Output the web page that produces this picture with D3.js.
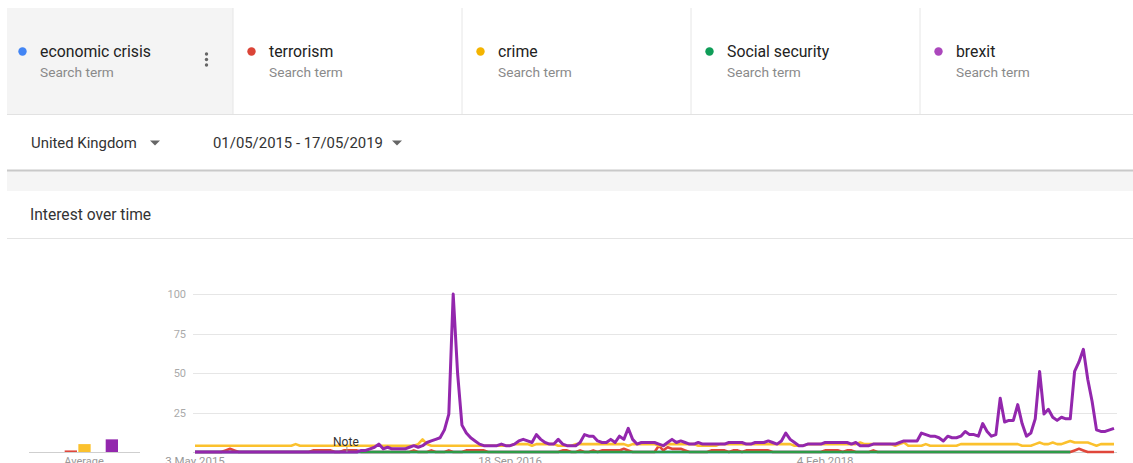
<!DOCTYPE html>
<html>
<head>
<meta charset="utf-8">
<script src="https://cdn.jsdelivr.net/npm/d3@7/dist/d3.min.js"></script>
<style>
  body { margin: 0; background: #fff; }
  svg { display: block; font-family: Roboto, 'Noto Sans', sans-serif; }
</style>
</head>
<body>
<svg id="chart" width="1133" height="463"></svg>
<script>
// search terms, in legend order
const terms = ['economic crisis', 'terrorism', 'crime', 'Social security', 'brexit'];
const dotColors = ['#4285f4', '#db4437', '#f4b400', '#0f9d58', '#ab47bc'];
const lineColors = ['#4285f4', '#e0473b', '#fbc12d', '#2e9c48', '#9327ad'];

const region = 'United Kingdom';
const dateRange = '01/05/2015 - 17/05/2019';
const firstWeek = '2015-05-03';
const lastWeek = '2019-05-12';
const xTicks = ['2015-05-03', '2016-09-18', '2018-02-04'];
const yTicks = [25, 50, 75, 100];
const noteDate = '2016-01-01';

// weekly interest, 0-100
const economicCrisis = [
  0,0,0,0,0,0,0,0,0,0, 0,0,0,0,0,0,0,0,0,0, 0,0,0,0,0,0,0,0,0,0,
  0,0,0,0,0,0,0,0,0,0, 0,0,0,0,0,0,0,0,0,0, 0,0,0,0,0,0,0,0,0,0,
  0,0,0,0,0,0,0,0,0,0, 0,0,0,0,0,0,0,0,0,0, 0,0,0,0,0,0,0,0,0,0,
  0,0,0,0,0,0,0,0,0,0, 0,0,0,0,0,0,0,0,0,0, 0,0,0,0,0,0,0,0,0,0,
  0,0,0,0,0,0,0,0,0,0, 0,0,0,0,0,0,0,0,0,0, 0,0,0,0,0,0,0,0,0,0,
  0,0,0,0,0,0,0,0,0,0, 0,0,0,0,0,0,0,0,0,0, 0,0,0,0,0,0,0,0,0,0,
  0,0,0,0,0,0,0,0,0,0, 0,0,0,0,0,0,0,0,0,0, 0
];
const terrorism = [
  0,0,0,0,0,0,0,1,2,1, 0,0,0,0,0,0,0,0,0,0, 0,0,0,0,0,0,0,1,1,1,
  1,1,0,0,1,1,1,1,0,0, 0,0,0,0,0,0,0,0,0,0, 1,0,0,0,1,0,0,0,1,0,
  0,0,1,1,1,1,1,0,0,0, 0,0,0,0,0,0,0,0,0,0, 0,0,0,0,1,1,0,0,1,0,
  0,1,0,1,1,1,1,1,2,1, 0,0,0,0,0,0,4,1,3,2, 2,2,1,0,0,0,0,0,1,1,
  1,1,0,1,1,0,1,1,1,1, 1,1,0,0,0,0,0,0,0,0, 0,0,0,0,1,1,1,1,0,1,
  1,0,0,0,0,1,0,0,0,0, 0,0,0,0,0,0,0,0,0,0, 0,0,0,0,0,0,0,0,0,0,
  0,0,0,0,0,0,0,0,0,0, 0,0,0,0,0,0,0,0,0,0, 0,1,2,1,0,0,0,0,0,0, 0
];
const crime = [
  4,4,4,4,4,4,4,4,4,4, 4,4,4,4,4,4,4,4,4,4, 4,4,4,5,4,4,4,4,4,4,
  4,4,4,4,4,4,4,4,4,4, 4,4,4,4,4,4,4,4,4,4, 4,5,8,5,4,4,4,4,4,4,
  4,4,4,4,4,4,4,4,4,4, 4,4,4,5,5,5,5,4,5,5, 5,5,5,4,4,4,4,5,5,5,
  5,5,5,5,5,5,5,5,5,4, 5,5,5,5,5,5,4,4,5,5, 5,5,5,5,5,4,4,4,4,4,
  5,5,5,5,5,5,5,5,5,5, 5,5,5,5,5,5,5,4,4,4, 5,5,5,5,5,5,5,5,5,5,
  5,5,6,5,5,5,5,5,5,5, 4,5,6,4,4,4,4,5,4,4, 4,4,4,4,4,5,5,5,5,5,
  5,5,5,5,5,5,5,5,5,4, 4,4,5,6,5,5,6,5,5,6, 7,6,6,6,6,5,4,5,5,5, 5
];
const socialSecurity = [
  0,0,0,0,0,0,0,0,0,0, 0,0,0,0,0,0,0,0,0,0, 0,0,0,0,0,0,0,0,0,0,
  0,0,0,0,0,0,0,0,0,0, 0,0,0,0,0,0,0,0,0,0, 0,0,0,0,0,0,0,0,0,0,
  0,0,0,0,0,0,0,0,0,0, 0,0,0,0,0,0,0,0,0,0, 0,0,0,0,0,0,0,0,0,0,
  0,0,0,0,0,0,0,0,0,0, 0,0,0,0,0,0,0,0,0,0, 0,0,0,0,0,0,0,0,0,0,
  0,0,0,0,0,0,0,0,0,0, 0,0,0,0,0,0,0,0,0,0, 0,0,0,0,0,0,0,0,0,0,
  0,0,0,0,0,0,0,0,0,0, 0,0,0,0,0,0,0,0,0,0, 0,0,0,0,0,0,0,0,0,0,
  0,0,0,0,0,0,0,0,0,0, 0,0,0,0,0,0,0,0,0,0, 0
];
const brexit = [
  0,0,0,0,0,0,0,0,0,0, 0,0,0,0,0,0,0,0,0,0, 0,0,0,0,0,0,0,0,0,0,
  0,0,0,0,0,0,0,0,1,1, 2,3,5,2,3,2,2,2,2,3, 4,3,4,6,7,8,9,14,24,100,
  50,17,12,9,7,5,4,4,4,4, 5,4,4,5,7,8,7,6,11,8, 6,5,5,8,5,4,4,4,6,11,
  10,10,7,6,6,8,6,10,8,15, 8,5,6,6,6,6,5,4,6,8, 6,7,6,5,5,6,5,5,5,5,
  5,5,6,6,6,6,5,5,6,6, 6,7,6,5,7,12,8,6,4,4, 5,5,5,5,6,6,6,6,6,6,
  5,6,4,4,4,5,5,5,5,5, 5,6,7,7,7,7,12,11,10,10, 9,7,10,9,9,10,13,11,11,10,
  18,13,10,11,34,19,20,20,30,18, 10,12,21,51,24,27,22,20,22,21, 21,51,57,65,46,32,14,13,13,14, 15
];
const averages = [0, 1, 5, 0, 8];

const series = [economicCrisis, terrorism, crime, socialSecurity, brexit];

const svg = d3.select('#chart');
const parse = d3.timeParse('%Y-%m-%d');

// ---- header cards ----
const cardW = 229;
const header = svg.append('g');
header.append('rect').attr('x', 7).attr('y', 8).attr('width', 226).attr('height', 106).attr('fill', '#f4f4f4');

const cards = header.selectAll('g.card').data(terms).enter().append('g')
  .attr('transform', (d, i) => 'translate(' + (4 + i * cardW) + ',0)');
cards.append('circle').attr('cx', 18.5).attr('cy', 51.5).attr('r', 4.2)
  .attr('fill', (d, i) => dotColors[i]);
cards.append('text').attr('x', 36).attr('y', 57).text(d => d)
  .attr('font-size', 15.8).attr('fill', '#222');
cards.append('text').attr('x', 36).attr('y', 76.5).text('Search term')
  .attr('font-size', 13.7).attr('fill', '#8a8a8a');
header.selectAll('line.div').data(d3.range(1, terms.length)).enter().append('line')
  .attr('x1', d => 4 + d * cardW).attr('x2', d => 4 + d * cardW)
  .attr('y1', 8).attr('y2', 114).attr('stroke', '#e6e6e6');
header.append('line').attr('x1', 7).attr('x2', 1133).attr('y1', 114.5).attr('y2', 114.5)
  .attr('stroke', '#e2e2e2');
// kebab menu on first card
header.selectAll('circle.menu').data([54, 59.5, 65]).enter().append('circle')
  .attr('cx', 206.5).attr('cy', d => d).attr('r', 1.7).attr('fill', '#666');

// ---- controls ----
const arrow = (cx, cy) => 'M' + (cx - 5) + ',' + (cy - 2.5) + 'L' + (cx + 5) + ',' + (cy - 2.5) + 'L' + cx + ',' + (cy + 2.5) + 'Z';
svg.append('text').attr('x', 31).attr('y', 148).text(region).attr('font-size', 14.9).attr('fill', '#333');
svg.append('path').attr('d', arrow(155, 143)).attr('fill', '#666');
svg.append('text').attr('x', 213).attr('y', 148).text(dateRange).attr('font-size', 14.9).attr('fill', '#333');
svg.append('path').attr('d', arrow(397, 143)).attr('fill', '#666');

svg.append('rect').attr('x', 7).attr('y', 171).attr('width', 1126).attr('height', 20).attr('fill', '#f5f5f5');
svg.append('line').attr('x1', 7).attr('x2', 1133).attr('y1', 170.5).attr('y2', 170.5)
  .attr('stroke', '#c9c9c9').attr('stroke-width', 2);

svg.append('text').attr('x', 30).attr('y', 219.5).text('Interest over time')
  .attr('font-size', 15.6).attr('fill', '#333');
svg.append('line').attr('x1', 7).attr('x2', 1133).attr('y1', 238.5).attr('y2', 238.5)
  .attr('stroke', '#e4e4e4');

// ---- average bars ----
const y = d3.scaleLinear().domain([0, 100]).range([452, 294]);
const band = d3.scaleBand().domain(terms).range([51, 118]).paddingInner(0.1);
const avg = svg.append('g');
avg.append('line').attr('x1', 29).attr('x2', 140).attr('y1', 452.5).attr('y2', 452.5).attr('stroke', '#cfcfcf');
avg.selectAll('rect').data(averages).enter().append('rect')
  .attr('x', (d, i) => band(terms[i])).attr('width', band.bandwidth())
  .attr('y', d => y(d)).attr('height', d => y(0) - y(d))
  .attr('fill', (d, i) => lineColors[i]);
avg.append('text').attr('x', 84).attr('y', 465).attr('text-anchor', 'middle')
  .text('Average').attr('font-size', 11).attr('fill', '#999');

// ---- time chart ----
const weeks = d3.timeWeek.range(parse(firstWeek), d3.timeDay.offset(parse(lastWeek), 1));
const x = d3.scaleTime().domain([weeks[0], weeks[weeks.length - 1]]).range([195, 1114]);

const grid = svg.append('g');
grid.selectAll('line').data(yTicks).enter().append('line')
  .attr('x1', 193).attr('x2', 1117).attr('y1', d => Math.round(y(d)) + 0.5).attr('y2', d => Math.round(y(d)) + 0.5)
  .attr('stroke', '#e6e6e6');
grid.append('line').attr('x1', 193).attr('x2', 1117).attr('y1', 452.5).attr('y2', 452.5).attr('stroke', '#cfcfcf');
grid.selectAll('text').data(yTicks).enter().append('text')
  .attr('x', 186).attr('y', d => y(d) + 4).attr('text-anchor', 'end')
  .text(d => d).attr('font-size', 11).attr('fill', '#aaa');

const fmt = d3.timeFormat('%-d %b %Y');
svg.append('g').selectAll('text').data(xTicks.map(parse)).enter().append('text')
  .attr('x', d => x(d)).attr('y', 465).attr('text-anchor', 'middle')
  .text(d => fmt(d)).attr('font-size', 11.5).attr('fill', '#999');

const line = d3.line().x((d, i) => x(weeks[i])).y(d => y(d));
svg.append('g').selectAll('path').data(series).enter().append('path')
  .attr('d', line).attr('fill', 'none')
  .attr('stroke', (d, i) => lineColors[i])
  .attr('stroke-width', (d, i) => i === 4 ? 3 : 2.6)
  .attr('stroke-linejoin', 'round');

// note marker
const nx = x(parse(noteDate));
svg.append('line').attr('x1', nx).attr('x2', nx).attr('y1', 447).attr('y2', 452).attr('stroke', '#999');
svg.append('text').attr('x', nx - 1).attr('y', 446).attr('text-anchor', 'middle')
  .text('Note').attr('font-size', 12).attr('fill', '#333');
</script>
</body>
</html>
